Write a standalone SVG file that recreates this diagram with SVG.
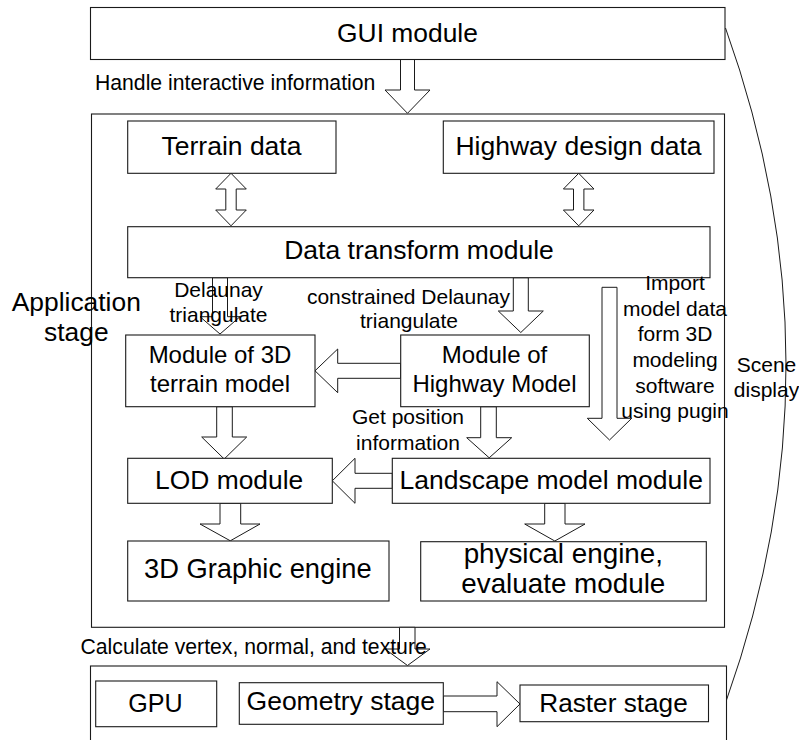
<svg xmlns="http://www.w3.org/2000/svg" width="799" height="740" viewBox="0 0 799 740">
<style>
.box{fill:#fff;stroke:#1a1a1a;stroke-width:1.1}
.frame{fill:none;stroke:#1a1a1a;stroke-width:1.1}
.arr{fill:#fff;stroke:#1a1a1a;stroke-width:1}
text{font-family:"Liberation Sans",Arial,sans-serif;fill:#000}
.c{text-anchor:middle}
.s21{font-size:21px}
.s24{font-size:24px}
.s265{font-size:26.5px}
</style>
<rect x="0" y="0" width="799" height="740" fill="#fff"/>
<g id="application-stage">
<rect class="frame" x="91.5" y="114" width="633" height="513.3"/>
<text class="c" x="76.3" y="310.7" style="font-size:26.4px">Application</text>
<text class="c" x="76.3" y="341" style="font-size:26.4px">stage</text>
</g>
<g id="gpu-stage">
<rect class="frame" x="90.5" y="666" width="636" height="90"/>
</g>
<g id="connectors">
<polygon class="arr" points="400.5,59.5 414.5,59.5 414.5,90 430,90 407.5,113.3 385,90 400.5,90"/>
<polygon class="arr" points="231,173.3 246.3,189 236.2,189 236.2,210 246.3,210 231,225.8 215.7,210 225.8,210 225.8,189 215.7,189"/>
<polygon class="arr" points="578.7,173.3 594,189 583.9,189 583.9,210 594,210 578.7,225.8 563.4,210 573.5,210 573.5,189 563.4,189"/>
<polygon class="arr" points="212.5,277.7 227.5,277.7 227.5,316.7 240,316.7 220,334 200,316.7 212.5,316.7"/>
<polygon class="arr" points="513.3,277.7 528.3,277.7 528.3,311 543.3,311 520.8,332.5 498.3,311 513.3,311"/>
<polygon class="arr" points="602,287.3 617,287.3 617,418.3 631.7,418.3 609.5,440 587.3,418.3 602,418.3"/>
<polygon class="arr" points="400.7,363.3 400.7,378.3 337.7,378.3 337.7,392.7 315,370.8 337.7,349 337.7,363.3"/>
<polygon class="arr" points="216.7,406.7 232.3,406.7 232.3,437 246.7,437 224.2,459 201.7,437 216.7,437"/>
<polygon class="arr" points="480.7,406.7 496.3,406.7 496.3,437.7 511.7,437.7 489.2,457.8 466.7,437.7 480.7,437.7"/>
<polygon class="arr" points="392.3,473.3 392.3,488.3 355,488.3 355,503.3 332.3,480.8 355,458.3 355,473.3"/>
<polygon class="arr" points="220,503.3 240.7,503.3 240.7,524 260,524 230.3,540.8 200,524 220,524"/>
<polygon class="arr" points="544.7,503.3 565,503.3 565,524 585,524 554.8,541 524.7,524 544.7,524"/>
<polygon class="arr" points="399.5,627.3 415,627.3 415,649 430,649 407.5,665.5 385,649 399.5,649"/>
<polygon class="arr" points="443.3,696 497,696 497,681.7 520,704 497,726.7 497,711.7 443.3,711.7"/>
<path d="M725.5,28 Q846,364 726.5,700" fill="none" stroke="#1a1a1a" stroke-width="1"/>
</g>
<g id="gui-module">
<rect class="box" x="90.5" y="7.5" width="634.5" height="52"/>
<text class="c" x="407.5" y="42.3" style="font-size:26.4px">GUI module</text>
</g>
<g id="terrain-data">
<rect class="box" x="127.7" y="121" width="208.3" height="52.3"/>
<text class="c s265" x="231.5" y="155">Terrain data</text>
</g>
<g id="highway-design-data">
<rect class="box" x="443.3" y="121" width="270.7" height="52.3"/>
<text class="c s265" x="578.5" y="155">Highway design data</text>
</g>
<g id="data-transform-module">
<rect class="box" x="127.7" y="226.7" width="582.3" height="51"/>
<text class="c s265" x="419" y="259">Data transform module</text>
</g>
<g id="terrain-model">
<rect class="box" x="125.7" y="335" width="189.3" height="71.7"/>
<text class="c s24" x="220" y="362.7">Module of 3D</text>
<text class="c s24" x="220" y="391.7">terrain model</text>
</g>
<g id="highway-model">
<rect class="box" x="400.7" y="335" width="188.6" height="71.7"/>
<text class="c s24" x="494.5" y="362.7">Module of</text>
<text class="c s24" x="494.5" y="391.7">Highway Model</text>
</g>
<g id="lod-module">
<rect class="box" x="127.7" y="458.3" width="204.6" height="45"/>
<text class="c" x="229.2" y="489" style="font-size:26.4px">LOD module</text>
</g>
<g id="landscape-model-module">
<rect class="box" x="392.3" y="458.3" width="317.7" height="45"/>
<text class="c s265" x="551.2" y="489">Landscape model module</text>
</g>
<g id="graphic-engine">
<rect class="box" x="127.7" y="541" width="261.3" height="60"/>
<text class="c" x="257.8" y="578.3" style="font-size:27.3px">3D Graphic engine</text>
</g>
<g id="physical-engine">
<rect class="box" x="420.7" y="541.7" width="285.6" height="59.3"/>
<text class="c" x="563.3" y="563.3" style="font-size:27.8px">physical engine,</text>
<text class="c" x="563.3" y="593.3" style="font-size:27.8px">evaluate module</text>
</g>
<g id="gpu">
<rect class="box" x="95.7" y="681" width="121" height="45.7"/>
<text class="c" x="155.5" y="711.7" style="font-size:25.1px">GPU</text>
</g>
<g id="geometry-stage">
<rect class="box" x="239.3" y="682.7" width="204" height="41.6"/>
<text class="c s265" x="340.8" y="710">Geometry stage</text>
</g>
<g id="raster-stage">
<rect class="box" x="520" y="685" width="188.5" height="36.7"/>
<text class="c" x="613.5" y="711.7" style="font-size:26.2px">Raster stage</text>
</g>
<g id="labels">
<text x="95" y="90" style="font-size:21.2px">Handle interactive information</text>
<text class="c s21" x="218.5" y="296.7">Delaunay</text>
<text class="c s21" x="218.5" y="321.7">triangulate</text>
<text class="c s21" x="408.5" y="304">constrained Delaunay</text>
<text class="c s21" x="409" y="328.3">triangulate</text>
<text class="c s21" x="675" y="290">Import</text>
<text class="c s21" x="675" y="315.5">model data</text>
<text class="c s21" x="675" y="341.3">form 3D</text>
<text class="c s21" x="675" y="367">modeling</text>
<text class="c s21" x="675" y="392.7">software</text>
<text class="c s21" x="675" y="418.3">using pugin</text>
<text class="c s21" x="766.5" y="371.7">Scene</text>
<text class="c s21" x="766.5" y="396.7">display</text>
<text class="c s21" x="408" y="424.3">Get position</text>
<text class="c s21" x="408" y="450">information</text>
<text x="80.5" y="654.3" style="font-size:21.2px">Calculate vertex, normal, and texture</text>
</g>
</svg>
